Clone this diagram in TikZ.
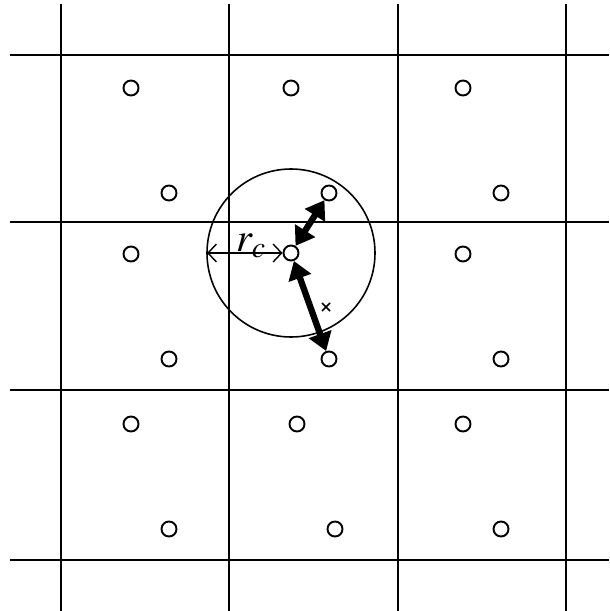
\documentclass[tikz,border=0pt]{standalone}
\usepackage{mathptmx}
\usetikzlibrary{arrows.meta}
\tikzset{
  atom/.style={draw, circle, line width=1.1pt, minimum size=0.3cm, inner sep=0pt},
  cellline/.style={line width=1.1pt},
  force/.style={line width=3.6pt, {Triangle[length=0.36cm,width=0.46cm]}-{Triangle[length=0.36cm,width=0.46cm]}},
  cutoff/.style={line width=0.8pt, {Straight Barb[length=0.17cm,width=0.36cm]}-{Straight Barb[length=0.17cm,width=0.36cm]}},
}
\begin{document}
\begin{tikzpicture}[x=0.02cm, y=-0.02cm]
\useasboundingbox (0,0) rectangle (609,611);
% periodic cell borders
\foreach \gx in {61,229,398,566} \draw[cellline] (\gx,4) -- (\gx,611);
\foreach \gy in {55,222,390,560} \draw[cellline] (10,\gy) -- (609,\gy);
% image particles
\node[atom] (a11) at (131,88) {};
\node[atom] (b11) at (169,193) {};
\node[atom] (a12) at (291,88) {};
\node[atom] (up) at (329,193) {};
\node[atom] (a13) at (463,88) {};
\node[atom] (b13) at (501,193) {};
\node[atom] (a21) at (131,254) {};
\node[atom] (b21) at (169,359) {};
\node[atom] (c) at (291,253) {};
\node[atom] (lo) at (329,359) {};
\node[atom] (a23) at (463,254) {};
\node[atom] (b23) at (501,359) {};
\node[atom] (a31) at (131,424) {};
\node[atom] (b31) at (169,529) {};
\node[atom] (a32) at (297,424) {};
\node[atom] (b32) at (335,529) {};
\node[atom] (a33) at (463,424) {};
\node[atom] (b33) at (501,529) {};
% cut-off sphere
\draw[line width=0.9pt] (c.center) circle[radius=84];
\coordinate (rim) at (207,253);
\draw[cutoff] (rim) -- (c);
\node[anchor=base, font=\fontsize{23}{26}\selectfont] (rc) at (251,251) {$r_c$};
% pair forces
\draw[force] (c) -- (up);
\draw[force] (c) -- (lo);
\draw[line width=0.9pt] (322,303) -- (330,311) (322,311) -- (330,303);
\end{tikzpicture}
\end{document}
